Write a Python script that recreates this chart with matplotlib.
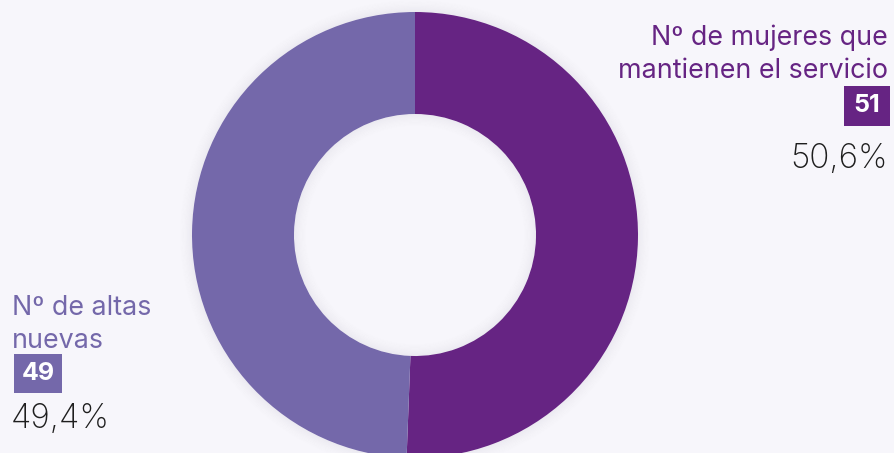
import matplotlib
matplotlib.use("Agg")
import matplotlib.pyplot as plt
from matplotlib.patches import Rectangle, Wedge

categories = ["Nº de mujeres que\nmantienen el servicio", "Nº de altas\nnuevas"]
values = [51, 49]
percents = [50.6, 49.4]
percent_labels = ["50,6%", "49,4%"]
colors = ["#662483", "#7468AA"]
BG = "#F7F6FB"

W, H = 894, 453
fig = plt.figure(figsize=(W / 100, H / 100), dpi=100, facecolor=BG)
ax = fig.add_axes([0, 0, 1, 1])
ax.set_facecolor(BG)

cx, cy = 415, H - 235
R, r = 223, 121

ax.pie(percents, colors=colors, startangle=90, counterclock=False,
       center=(cx, cy), radius=R, frame=True,
       wedgeprops=dict(width=R - r, linewidth=0, zorder=2))
ax.set_xlim(0, W)
ax.set_ylim(0, H)
ax.set_aspect("equal")
ax.axis("off")

# soft shadows (decoration): outside the ring and inside the hole
n = 12
for i in range(n):
    a = 0.07 * (1 - i / n) ** 2
    ax.add_patch(Wedge((cx, cy), R + 1.2 * (i + 1), 0, 360, width=1.2,
                       color="#5e5a78", alpha=a, lw=0, zorder=1))
    ax.add_patch(Wedge((cx, cy), r - 1.2 * i, 0, 360, width=1.2,
                       color="#5e5a78", alpha=a, lw=0, zorder=3))

font = "Inter"

# right label
ax.text(888, H - 78, categories[0], ha="right", va="baseline", fontsize=19.3,
        color=colors[0], family=font, linespacing=1.33, zorder=5)
ax.add_patch(Rectangle((844, H - 126), 46, 40, color=colors[0], lw=0, zorder=5))
ax.text(867, H - 106, str(values[0]), ha="center", va="center", fontsize=18,
        color="white", weight="bold", family=font, zorder=6)
ax.text(888, H - 168, percent_labels[0], ha="right", va="baseline", fontsize=24,
        color="#1e1e1e", family=font, weight="light", zorder=5)

# left label
ax.text(12, H - 348, categories[1], ha="left", va="baseline", fontsize=19.3,
        color=colors[1], family=font, linespacing=1.33, zorder=5)
ax.add_patch(Rectangle((14, H - 393), 48, 39, color=colors[1], lw=0, zorder=5))
ax.text(38, H - 373.5, str(values[1]), ha="center", va="center", fontsize=18,
        color="white", weight="bold", family=font, zorder=6)
ax.text(11, H - 428, percent_labels[1], ha="left", va="baseline", fontsize=24,
        color="#1e1e1e", family=font, weight="light", zorder=5)

fig.savefig("out.png", dpi=100, facecolor=BG)
